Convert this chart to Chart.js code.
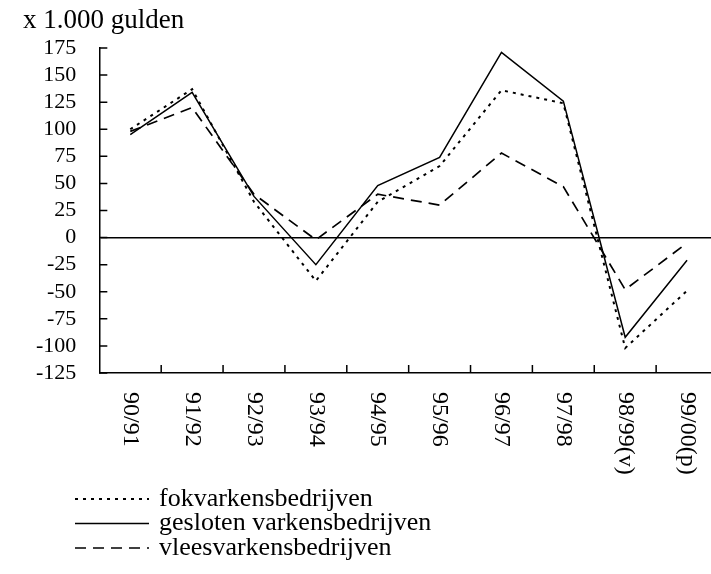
<!DOCTYPE html>
<html lang="nl">
<head>
<meta charset="UTF-8">
<title>Resultaat varkensbedrijven</title>
<script src="https://cdn.jsdelivr.net/npm/chart.js@4.4.0/dist/chart.umd.min.js"></script>
<style>
  html, body { margin: 0; padding: 0; background: #fff; overflow: hidden; }
  canvas { display: block; }
</style>
</head>
<body>
<canvas id="chart" width="720" height="574"></canvas>
<script>
  // data
  const years = ['90/91', '91/92', '92/93', '93/94', '94/95', '95/96', '96/97', '97/98', '98/99(v)', '99/00(p)'];
  const fokvarkens = [100, 137, 33, -40, 33, 66, 136, 124, -102, -49];
  const gesloten = [95, 134, 38, -25, 48, 74, 171, 126, -92, -21];
  const vleesvarkens = [98, 120, 40, -2, 40, 30, 78, 47, -48, -5];
  const yTicks = [-125, -100, -75, -50, -25, 0, 25, 50, 75, 100, 125, 150, 175];
  const unitLabel = 'x 1.000 gulden';
  const seriesNames = ['fokvarkensbedrijven', 'gesloten varkensbedrijven', 'vleesvarkensbedrijven'];

  const serif = "'Liberation Serif', 'Times New Roman', serif";

  // title, inward tick marks, rotated year labels and legend
  const extras = {
    id: 'extras',
    afterDraw(chart) {
      const ctx = chart.ctx;
      const area = chart.chartArea;
      const xs = chart.scales.x;
      const ys = chart.scales.y;
      ctx.save();
      ctx.fillStyle = '#000';
      ctx.strokeStyle = '#000';

      // unit label top left
      ctx.font = '27px ' + serif;
      ctx.textBaseline = 'alphabetic';
      ctx.fillText(unitLabel, 23, 28);

      // tick marks pointing into the plot
      ctx.lineWidth = 1.5;
      ctx.beginPath();
      yTicks.forEach(v => {
        const y = ys.getPixelForValue(v);
        ctx.moveTo(area.left, y);
        ctx.lineTo(area.left + 8, y);
      });
      for (let i = 1; i <= years.length; i++) {
        const x = xs.getPixelForValue(i - 0.5);
        ctx.moveTo(x, area.bottom);
        ctx.lineTo(x, area.bottom - 8);
      }
      ctx.stroke();

      // year labels, turned a quarter clockwise
      ctx.font = '24px ' + serif;
      ctx.textAlign = 'left';
      ctx.textBaseline = 'middle';
      years.forEach((lbl, i) => {
        ctx.save();
        ctx.translate(xs.getPixelForValue(i), area.bottom + 19);
        ctx.rotate(Math.PI / 2);
        ctx.fillText(lbl, 0, 0);
        ctx.restore();
      });

      // legend
      ctx.font = '26px ' + serif;
      chart.data.datasets.forEach((ds, i) => {
        const y = 499 + i * 24.5;
        ctx.save();
        ctx.lineWidth = ds.borderWidth;
        ctx.setLineDash(ds.borderDash || []);
        ctx.beginPath();
        ctx.moveTo(75, y);
        ctx.lineTo(149, y);
        ctx.stroke();
        ctx.restore();
        ctx.fillText(ds.label, 159, y);
      });
      ctx.restore();
    }
  };

  new Chart(document.getElementById('chart'), {
    type: 'line',
    data: {
      labels: years,
      datasets: [
        { label: seriesNames[0], data: fokvarkens, borderColor: '#000', borderWidth: 2, borderDash: [3, 5] },
        { label: seriesNames[1], data: gesloten, borderColor: '#000', borderWidth: 1.5, borderDash: [] },
        { label: seriesNames[2], data: vleesvarkens, borderColor: '#000', borderWidth: 1.7, borderDash: [11, 7] }
      ]
    },
    options: {
      responsive: false,
      animation: false,
      events: [],
      elements: {
        line: { tension: 0, fill: false },
        point: { radius: 0 }
      },
      layout: { padding: { left: 13, top: 48, right: 2, bottom: 201 } },
      plugins: {
        legend: { display: false },
        title: { display: false },
        tooltip: { enabled: false }
      },
      scales: {
        x: {
          offset: true,
          grid: { display: false, drawTicks: false },
          border: { display: true, color: '#000', width: 1.5 },
          ticks: { display: false }
        },
        y: {
          min: -125,
          max: 175,
          afterBuildTicks: s => { s.ticks = yTicks.map(v => ({ value: v })); },
          grid: {
            drawTicks: false,
            lineWidth: 1.5,
            color: c => (c.tick && c.tick.value === 0 ? '#000' : 'rgba(0,0,0,0)')
          },
          border: { display: true, color: '#000', width: 1.5 },
          ticks: {
            color: '#000',
            padding: 23,
            autoSkip: false,
            font: { family: serif, size: 22 }
          }
        }
      }
    },
    plugins: [extras]
  });
</script>
</body>
</html>
